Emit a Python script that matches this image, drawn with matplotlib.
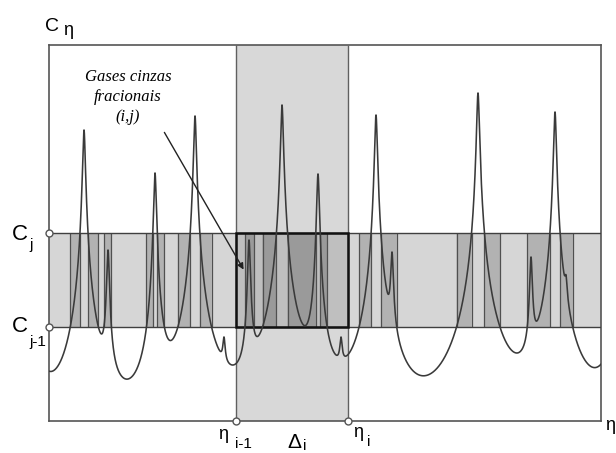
import numpy as np
import matplotlib.pyplot as plt

# spectral lines (wavenumber position, peak height);
# the first and last lines sit just outside the plotted range
line_eta = np.array([-30, 35, 59, 106, 146, 175, 200, 233, 269, 292, 327, 343, 429, 482, 506, 517, 580])
line_top = np.array([287, 291, 171, 248, 305, 84, 181, 316, 247, 84, 306, 169, 328, 164, 309, 146, 295])
decade = 95.0      # height of one decade of absorption coefficient
half_width = 1.2   # line half width

eta_max, c_max = 552, 376
c_levels = [94, 188]        # C_{j-1}, C_j
eta_band = [187, 299]       # eta_{i-1}, eta_i

# absorption coefficient (log scale) built from lorentz lines
L = half_width**2 / ((line_eta[:, None] - line_eta[None, :])**2 + half_width**2)
S = np.linalg.solve(L, 10**(line_top / decade))
eta = np.linspace(0, eta_max, 30000)
prof = (S[None, :] * half_width**2 /
        ((eta[:, None] - line_eta[None, :])**2 + half_width**2)).sum(axis=1)
c_eta = decade * np.log10(prof)

fig = plt.figure(figsize=(6.16, 4.53), dpi=100)
ax = fig.add_axes([49/616, 32/453, 552/616, 376/453])
ax.set_xlim(0, eta_max)
ax.set_ylim(0, c_max)

lo, hi = c_levels
a, b = eta_band
inside = (eta >= a) & (eta <= b)
mask = (c_eta >= lo) & (c_eta <= hi)

# background bands
ax.axvspan(a, b, color='#d8d8d8', lw=0, zorder=0)
ax.fill_between(eta, lo, hi, where=~inside, color='#d6d6d6', lw=0, zorder=1)
ax.fill_between(eta, lo, hi, where=inside, color='#bfbfbf', lw=0, zorder=1)
# fractional gray gas intervals
ax.fill_between(eta, lo, hi, where=mask & ~inside, color='#b2b2b2', lw=0, zorder=2)
ax.fill_between(eta, lo, hi, where=mask & inside, color='#9a9a9a', lw=0, zorder=2)
edges = eta[1:][np.diff(mask.astype(int)) != 0]
ax.vlines(edges, lo, hi, color='#505050', lw=0.9, zorder=3)

ax.hlines(c_levels, 0, eta_max, color='#404040', lw=1.0, zorder=4)
ax.vlines(eta_band, 0, c_max, color='#606060', lw=1.0, zorder=4)
ax.add_patch(plt.Rectangle((a, lo), b - a, hi - lo, fill=False, ec='#111111', lw=1.8, zorder=5))

ax.plot(eta, c_eta, color='#3a3a3a', lw=1.15, zorder=6)

for s in ax.spines.values():
    s.set_color('#555555')
    s.set_linewidth(1.2)
ax.set_xticks([])
ax.set_yticks([])

ax.plot([0, 0], c_levels, 'o', ms=5, mfc='white', mec='#555555', mew=1, clip_on=False, zorder=7)
ax.plot(eta_band, [0, 0], 'o', ms=5, mfc='white', mec='#555555', mew=1, clip_on=False, zorder=7)

sans = 'Liberation Sans'
ax.text(-4, 390, 'C', fontsize=14, family=sans, va='baseline')
ax.text(14, 386, 'η', fontsize=13, family=sans, va='baseline')
ax.text(-37, 181, 'C', fontsize=16, family=sans, va='baseline')
ax.text(-20, 172, 'j', fontsize=11, family=sans, va='baseline')
ax.text(-37, 89, 'C', fontsize=16, family=sans, va='baseline')
ax.text(-20, 75, 'j-1', fontsize=11, family=sans, va='baseline')
ax.text(169, -18, 'η', fontsize=13, family=sans, va='baseline')
ax.text(186, -27, 'i-1', fontsize=11, family=sans, va='baseline')
ax.text(238, -27, 'Δ', fontsize=15, family=sans, va='baseline')
ax.text(254, -29, 'i', fontsize=11, family=sans, va='baseline')
ax.text(304, -16, 'η', fontsize=13, family=sans, va='baseline')
ax.text(318, -25, 'i', fontsize=11, family=sans, va='baseline')
ax.text(556, -9, 'η', fontsize=13, family=sans, va='baseline')

ax.text(79, 324, 'Gases cinzas\nfracionais\n(i,j)', fontsize=12, family='Liberation Serif',
        style='italic', ha='center', va='center', linespacing=1.35, zorder=8)
ax.annotate('', xy=(196, 149), xytext=(114, 291),
            arrowprops=dict(arrowstyle='-|>', color='#222222', lw=1.0, mutation_scale=9),
            zorder=8)

fig.savefig('out.png', dpi=100, facecolor='white')
